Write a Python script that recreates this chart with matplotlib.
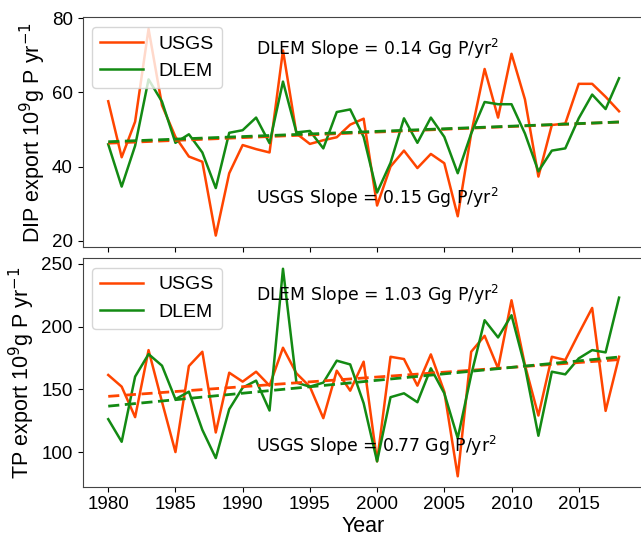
import numpy as np
import matplotlib
matplotlib.use("Agg")
import matplotlib.pyplot as plt

plt.rcParams['font.family'] = ['Liberation Sans', 'DejaVu Sans']
plt.rcParams['font.size'] = 13.5

years = np.arange(1980, 2019)

dip_usgs = [57.6, 42.5, 52.1, 77.1, 56.5, 48.0, 42.7, 41.3, 21.4, 38.2,
            45.8, 44.7, 43.8, 71.3, 48.9, 46.1, 47.1, 47.9, 51.3, 52.9,
            29.5, 40.0, 44.3, 39.6, 43.4, 40.9, 26.6, 48.9, 66.3, 53.2,
            70.4, 58.1, 37.3, 51.2, 51.6, 62.3, 62.3, 58.8, 54.9]
dip_dlem = [46.0, 34.6, 45.6, 63.5, 57.5, 46.4, 48.7, 43.8, 34.2, 49.1,
            49.8, 53.2, 46.3, 62.9, 49.2, 49.6, 44.9, 54.7, 55.4, 48.0,
            33.0, 41.0, 53.0, 46.4, 53.2, 48.0, 38.2, 48.9, 57.4, 56.8,
            56.8, 48.9, 38.7, 44.3, 44.9, 53.0, 59.4, 55.5, 63.8]

tp_usgs = [161.4, 152.1, 127.8, 181.2, 140.0, 100.0, 168.5, 179.9, 115.6, 163.2,
           156.1, 164.0, 152.9, 183.1, 162.7, 152.1, 127.0, 164.8, 148.9, 172.0,
           92.6, 175.9, 174.1, 152.9, 177.8, 148.1, 80.7, 179.9, 192.6, 166.7,
           220.9, 169.3, 129.1, 175.9, 173.3, 194.4, 214.8, 132.8, 175.9]
tp_dlem = [126.2, 108.2, 160.1, 178.0, 168.8, 142.1, 148.1, 117.7, 95.2, 134.1,
           151.3, 156.9, 133.1, 246.0, 155.3, 152.1, 155.3, 172.8, 169.8, 138.9,
           92.6, 143.7, 146.8, 139.7, 166.7, 146.8, 111.1, 161.4, 205.0, 191.3,
           209.0, 168.0, 113.0, 164.0, 161.9, 174.6, 181.2, 179.4, 223.0]

dip_slopes = {"USGS": 0.15, "DLEM": 0.14}
tp_slopes = {"USGS": 0.77, "DLEM": 1.03}

ylabels = ["DIP export 10$^{9}$g P yr$^{-1}$", "TP export 10$^{9}$g P yr$^{-1}$"]
xticks = [1980, 1985, 1990, 1995, 2000, 2005, 2010, 2015]

c_usgs = "#FF4500"
c_dlem = "#138A13"

fig = plt.figure(figsize=(6.41, 5.39), dpi=100)
ax1 = fig.add_axes([0.129, 0.5423, 0.8766, 0.4254])
ax2 = fig.add_axes([0.129, 0.0970, 0.8766, 0.4237], sharex=ax1)


def trend(x, y, slope):
    # line with the stated slope passing through the series mean
    b = np.mean(y) - slope * np.mean(x)
    return slope * x + b


panels = [
    (ax1, dip_usgs, dip_dlem, dip_slopes, (18.4, 80.2), (70, 30), ylabels[0]),
    (ax2, tp_usgs, tp_dlem, tp_slopes, (72.4, 254.3), (220, 100), ylabels[1]),
]

for ax, usgs, dlem, slopes, ylim, ytext, ylab in panels:
    ax.plot(years, usgs, color=c_usgs, lw=1.8, label="USGS")
    ax.plot(years, dlem, color=c_dlem, lw=1.8, label="DLEM")
    ax.plot(years, trend(years, usgs, slopes["USGS"]), color=c_usgs,
            lw=2, ls=(0, (4, 2)))
    ax.plot(years, trend(years, dlem, slopes["DLEM"]), color=c_dlem,
            lw=2, ls=(0, (4, 2)))
    ax.text(1991, ytext[0], "DLEM Slope = %.2f Gg P/yr$^2$" % slopes["DLEM"],
            family="DejaVu Sans", fontsize=12.4)
    ax.text(1991, ytext[1], "USGS Slope = %.2f Gg P/yr$^2$" % slopes["USGS"],
            family="DejaVu Sans", fontsize=12.4)
    ax.set_ylim(*ylim)
    ax.set_ylabel(ylab, fontsize=15.5, labelpad=3)
    ax.legend(loc="upper left", fontsize=14, handlelength=2.2)
    for s in ax.spines.values():
        s.set_color("#444444")

ax1.set_xlim(1978.1, 2019.9)
ax1.set_xticks(xticks)
ax1.tick_params(labelbottom=False)
ax1.set_yticks([20, 40, 60, 80])
ax2.set_yticks([100, 150, 200, 250])
ax2.set_xlabel("Year", fontsize=15.5, labelpad=2)

fig.savefig("out.png", dpi=100)
